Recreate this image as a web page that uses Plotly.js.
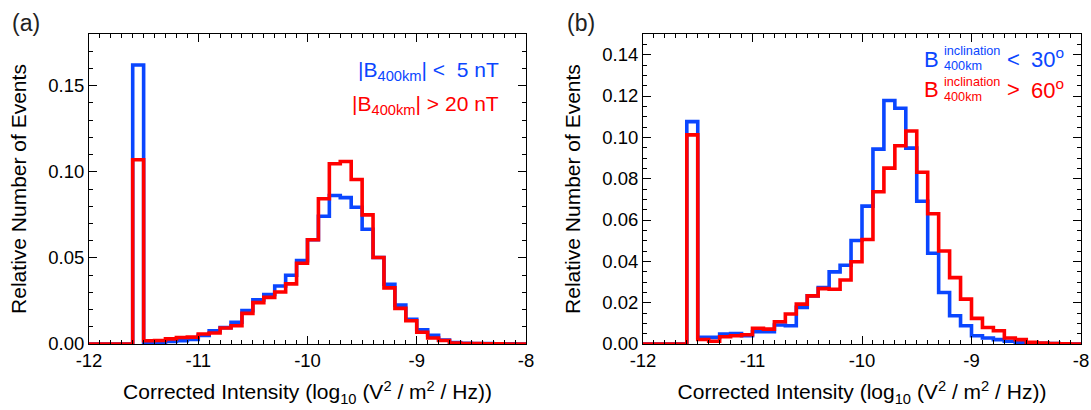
<!DOCTYPE html>
<html>
<head>
<meta charset="utf-8">
<script src="https://cdn.plot.ly/plotly-3.0.1.min.js"></script>
<style>html,body{margin:0;padding:0;background:#fff;}#chart{width:1091px;height:410px;}</style>
</head>
<body>
<div id="chart"></div>
<script>
// Bin edges (log10 intensity), 0.1 wide
const binEdges = [-12.0,-11.9,-11.8,-11.7,-11.6,-11.5,-11.4,-11.3,-11.2,-11.1,
  -11.0,-10.9,-10.8,-10.7,-10.6,-10.5,-10.4,-10.3,-10.2,-10.1,
  -10.0,-9.9,-9.8,-9.7,-9.6,-9.5,-9.4,-9.3,-9.2,-9.1,
  -9.0,-8.9,-8.8,-8.7,-8.6,-8.5,-8.4,-8.3,-8.2,-8.1,-8.0];

// Panel (a): |B400km| < 5 nT (blue), > 20 nT (red)
const blueA = [0,0,0,0,0.162,0.0005,0.001,0.0015,0.0019,0.0027,
  0.005,0.0076,0.0095,0.0126,0.0194,0.0256,0.0287,0.0337,0.0399,0.0484,
  0.0605,0.0742,0.0862,0.085,0.0794,0.0666,0.0502,0.0347,0.0226,0.0143,
  0.0083,0.0051,0.0023,0.0008,0.0004,0.0003,0.0002,0.0001,0.0001,0];
const redA = [0,0,0,0,0.107,0.0019,0.002,0.003,0.0038,0.004,
  0.0058,0.0064,0.0093,0.0106,0.0178,0.024,0.0271,0.0302,0.0349,0.0469,
  0.0605,0.0843,0.1047,0.106,0.0955,0.075,0.0502,0.0326,0.0207,0.0135,
  0.0068,0.0035,0.002,0.0006,0.0002,0.0002,0.0001,0.0001,0,0];

// Panel (b): inclination < 30 deg (blue), > 60 deg (red)
const blueB = [0,0,0,0,0.1076,0.0032,0.0032,0.0048,0.0051,0.004,
  0.0059,0.0059,0.0092,0.0088,0.0177,0.0233,0.0273,0.0349,0.0381,0.0501,
  0.0667,0.0943,0.1178,0.1141,0.0948,0.0691,0.0439,0.0249,0.0137,0.0088,
  0.004,0.0029,0.0021,0.0013,0.0008,0.0005,0.0003,0.0002,0.0001,0];
const redB = [0,0,0,0,0.1012,0.0022,0.0013,0.0035,0.004,0.0045,
  0.0076,0.0072,0.0108,0.0145,0.0193,0.0233,0.0268,0.0265,0.031,0.0398,
  0.0506,0.0737,0.0851,0.0959,0.1031,0.0831,0.063,0.045,0.0321,0.0217,
  0.0124,0.008,0.0064,0.0029,0.0021,0.0008,0.0004,0.0002,0.0001,0];

const xTicks = [-12,-11,-10,-9,-8];
const xTickText = ['-12','-11','-10','-9','-8'];
const xTitle = 'Corrected Intensity (log<sub>10</sub> (V<sup>2</sup> / m<sup>2</sup> / Hz))';
const yTitle = 'Relative Number of Events';

const BLUE = '#0a46ff';
const RED = '#ff0000';
const FONT = 'Liberation Sans, Arial, Helvetica, sans-serif';

function step(vals){ return vals.concat([vals[vals.length-1]]); }

function trace(vals, color, xa, ya){
  return {x: binEdges, y: step(vals), type:'scatter', mode:'lines',
    line:{shape:'hv', color: color, width:3.6}, xaxis: xa, yaxis: ya, hoverinfo:'skip'};
}

const data = [
  trace(blueA, BLUE, 'x', 'y'),
  trace(redA, RED, 'x', 'y'),
  trace(blueB, BLUE, 'x2', 'y2'),
  trace(redB, RED, 'x2', 'y2')
];

function xax(domain){
  return {domain: domain, range:[-12,-8], tickvals: xTicks, ticktext: xTickText,
    ticks:'inside', ticklen:8, tickwidth:1, tickcolor:'#000', mirror:'ticks',
    showline:true, linecolor:'#000', linewidth:1, showgrid:false, zeroline:false,
    minor:{dtick:0.1, tick0:-12, ticks:'inside', ticklen:4, tickcolor:'#000', showgrid:false},
    tickfont:{family:FONT, size:18.5, color:'#000'},
    title:{text:xTitle, font:{family:FONT, size:21, color:'#000'}, standoff:14},
    automargin:false, fixedrange:true};
}
function yax(domain, maxv, dt, mdt){
  return {domain: domain, range:[0,maxv], dtick:dt, tick0:0, tickformat:'.2f',
    ticks:'inside', ticklen:8, tickwidth:1, tickcolor:'#000', mirror:'ticks',
    showline:true, linecolor:'#000', linewidth:1, showgrid:false, zeroline:false,
    minor:{dtick:mdt, tick0:0, ticks:'inside', ticklen:4, tickcolor:'#000', showgrid:false},
    tickfont:{family:FONT, size:18.5, color:'#000'},
    title:{text:yTitle, font:{family:FONT, size:21, color:'#000'}, standoff:15},
    automargin:false, fixedrange:true};
}

const W = 1091, H = 410;
function px(x){ return x/W; }
function py(y){ return 1 - y/H; }

const legFont = 22;
const smallFont = 12.7;
function ann(text, x, y, color, size, xanchor){
  return {text:text, x:px(x), y:py(y), xref:'paper', yref:'paper', showarrow:false,
    xanchor:xanchor||'left', yanchor:'middle', font:{family:FONT, size:size, color:color}};
}

const annotations = [
  ann('(a)', 10, 23, '#222', 23, 'left'),
  ann('(b)', 565, 23, '#222', 23, 'left'),
  // panel (a) legend
  ann('|B<sub>400km</sub>| &lt;&nbsp; 5 nT', 501, 71, BLUE, 21, 'right'),
  ann('|B<sub>400km</sub>| &gt; 20 nT', 501, 105, RED, 21, 'right'),
  // panel (b) legend
  ann('B', 941, 59, BLUE, legFont, 'right'),
  ann('inclination', 942, 51, BLUE, smallFont, 'left'),
  ann('400km', 942, 66, BLUE, smallFont, 'left'),
  ann('&lt;', 1005, 59, BLUE, legFont, 'left'),
  ann('30<sup>o</sup>', 1029, 58, BLUE, legFont, 'left'),
  ann('B', 941, 90, RED, legFont, 'right'),
  ann('inclination', 942, 82, RED, smallFont, 'left'),
  ann('400km', 942, 97, RED, smallFont, 'left'),
  ann('&gt;', 1005, 90, RED, legFont, 'left'),
  ann('60<sup>o</sup>', 1029, 89, RED, legFont, 'left')
];

const layout = {
  width: W, height: H,
  margin:{l:0, r:0, t:0, b:0, pad:0},
  paper_bgcolor:'#fff', plot_bgcolor:'#fff',
  showlegend:false,
  font:{family:FONT, color:'#000'},
  xaxis: xax([px(89), px(526)]),
  yaxis: yax([py(344), py(34)], 0.18, 0.05, 0.01),
  xaxis2: xax([px(643), px(1081)]),
  yaxis2: yax([py(344), py(34)], 0.15, 0.02, 0.005),
  annotations: annotations
};
layout.xaxis.anchor = 'y';
layout.yaxis.anchor = 'x';
layout.xaxis2.anchor = 'y2';
layout.yaxis2.anchor = 'x2';

Plotly.newPlot('chart', data, layout, {staticPlot:true, displayModeBar:false});
</script>
</body>
</html>
